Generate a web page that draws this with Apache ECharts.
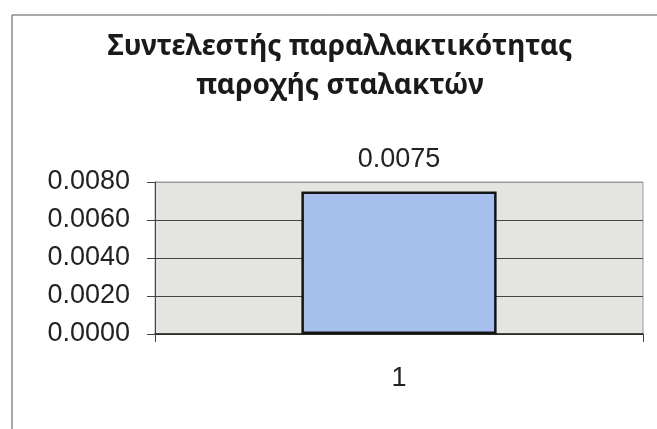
<!DOCTYPE html>
<html>
<head>
<meta charset="utf-8">
<script src="https://cdn.jsdelivr.net/npm/echarts@6/dist/echarts.min.js"></script>
<style>
  html, body { margin: 0; padding: 0; background: #ffffff; }
  #chart { width: 657px; height: 429px; }
</style>
</head>
<body>
<div id="chart"></div>
<script>
// Chart data
const titleLines = ['Συντελεστής παραλλακτικότητας', 'παροχής σταλακτών'];
const categories = ['1'];
const values = [0.0075];
const yTicks = { min: 0, max: 0.008, interval: 0.002 };

const titleFont = 'bold 28px "Noto Sans", "DejaVu Sans", sans-serif';

const chart = echarts.init(document.getElementById('chart'), null, { renderer: 'canvas' });

chart.setOption({
  backgroundColor: '#ffffff',
  animation: false,
  graphic: [
    {
      // chart area frame
      type: 'polyline',
      shape: { points: [[12, 429], [12, 15], [657, 15]] },
      style: { stroke: '#555555', lineWidth: 1, fill: null },
      silent: true
    },
    {
      type: 'text',
      x: 340,
      y: 47,
      style: {
        text: titleLines[0],
        font: titleFont,
        fill: '#1a1a1a',
        textAlign: 'center',
        textVerticalAlign: 'middle'
      },
      silent: true
    },
    {
      type: 'text',
      x: 340,
      y: 86,
      style: {
        text: titleLines[1],
        font: titleFont,
        fill: '#1a1a1a',
        textAlign: 'center',
        textVerticalAlign: 'middle'
      },
      silent: true
    }
  ],
  grid: {
    left: 155,
    right: 14,
    top: 182,
    bottom: 95,
    show: true,
    backgroundColor: '#e4e4e0',
    borderColor: '#9a9a9a',
    borderWidth: 1
  },
  xAxis: {
    type: 'category',
    data: categories,
    axisLine: { lineStyle: { color: '#222', width: 1.5 } },
    axisTick: { show: true, length: 8, lineStyle: { color: '#444' } },
    axisLabel: {
      fontFamily: 'Liberation Sans',
      fontSize: 27,
      color: '#222',
      margin: 31
    }
  },
  yAxis: {
    type: 'value',
    min: yTicks.min,
    max: yTicks.max,
    interval: yTicks.interval,
    axisLine: { show: true, lineStyle: { color: '#444', width: 1 } },
    axisTick: { show: true, length: 8, lineStyle: { color: '#444' } },
    axisLabel: {
      fontFamily: 'Liberation Sans',
      fontSize: 27,
      color: '#222',
      margin: 25,
      formatter: v => v.toFixed(4)
    },
    splitLine: {
      show: true,
      lineStyle: { color: ['#444', '#444', '#444', '#444', '#9a9a9a'], width: 1 }
    }
  },
  series: [{
    type: 'bar',
    data: values,
    barWidth: '40%',
    itemStyle: {
      color: '#a8c0ee',
      borderColor: '#151515',
      borderWidth: 2.5
    },
    label: {
      show: true,
      position: 'top',
      distance: 18,
      fontFamily: 'Liberation Sans',
      fontSize: 27,
      color: '#222',
      formatter: p => p.value.toFixed(4)
    }
  }]
});
</script>
</body>
</html>
